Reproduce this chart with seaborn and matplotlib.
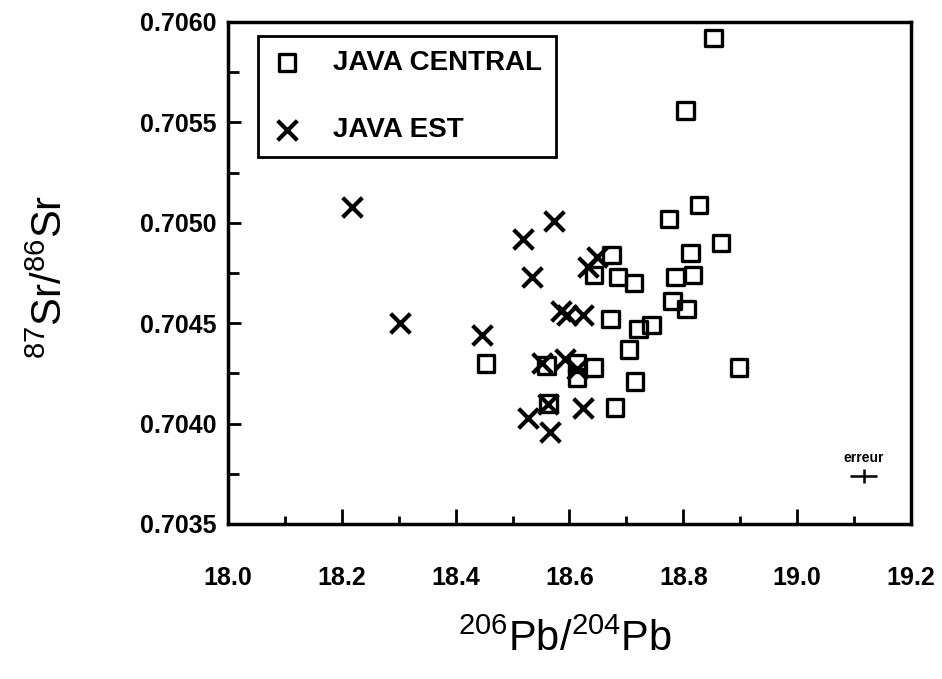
import matplotlib
matplotlib.use("Agg")
import matplotlib.pyplot as plt
import seaborn as sns
import pandas as pd
from matplotlib.ticker import MultipleLocator

# 206Pb/204Pb and 87Sr/86Sr for Central Java lavas
central_pb = [18.853, 18.804, 18.828, 18.775, 18.866, 18.813, 18.817, 18.786,
              18.781, 18.806, 18.674, 18.643, 18.685, 18.713, 18.672, 18.744,
              18.721, 18.705, 18.898, 18.453, 18.560, 18.613, 18.613, 18.643,
              18.715, 18.563, 18.680]
central_sr = [0.70592, 0.70556, 0.70509, 0.70502, 0.70490, 0.70485, 0.70474, 0.70473,
              0.70461, 0.70457, 0.70484, 0.70474, 0.70473, 0.70470, 0.70452, 0.70449,
              0.70447, 0.70437, 0.70428, 0.70430, 0.70429, 0.70430, 0.70423, 0.70428,
              0.70421, 0.70410, 0.70408]

# East Java lavas
est_pb = [18.218, 18.303, 18.447, 18.519, 18.572, 18.534, 18.648, 18.633, 18.585,
          18.595, 18.624, 18.551, 18.592, 18.613, 18.563, 18.528, 18.565, 18.624]
est_sr = [0.70508, 0.70450, 0.70444, 0.70492, 0.70501, 0.70473, 0.70483, 0.70478, 0.70456,
          0.70454, 0.70454, 0.70430, 0.70432, 0.70427, 0.70410, 0.70403, 0.70396, 0.70408]

# analytical error cross
err_pb, err_sr = 19.117, 0.70374
err_dpb, err_dsr = 0.024, 0.000035

x_ticks = [18.0, 18.2, 18.4, 18.6, 18.8, 19.0, 19.2]
y_ticks = [0.7035, 0.7040, 0.7045, 0.7050, 0.7055, 0.7060]
x_tick_labels = ["18.0", "18.2", "18.4", "18.6", "18.8", "19.0", "19.2"]
y_tick_labels = ["0.7035", "0.7040", "0.7045", "0.7050", "0.7055", "0.7060"]

central = pd.DataFrame({"pb": central_pb, "sr": central_sr})
est = pd.DataFrame({"pb": est_pb, "sr": est_sr})

sns.set_theme(style="ticks")
plt.rcParams["font.family"] = ["Liberation Sans", "DejaVu Sans"]
plt.rcParams.update({
    "mathtext.fontset": "custom",
    "mathtext.rm": "Liberation Sans",
    "mathtext.it": "Liberation Sans:italic",
    "mathtext.bf": "Liberation Sans:bold",
    "text.color": "black",
    "axes.labelcolor": "black",
    "axes.edgecolor": "black",
    "axes.linewidth": 2.5,
    "xtick.color": "black",
    "ytick.color": "black",
    "xtick.labelcolor": "black",
    "ytick.labelcolor": "black",
})

fig = plt.figure(figsize=(9.42, 6.79), dpi=100)
ax = fig.add_axes([0.242, 0.2283, 0.725, 0.7393])

sns.scatterplot(data=central, x="pb", y="sr", ax=ax, marker="s", s=140,
                facecolors="none", edgecolor="black", linewidth=2.4,
                label="JAVA CENTRAL")
sns.scatterplot(data=est, x="pb", y="sr", ax=ax, marker="x", s=200,
                color="black", linewidth=3.0, label="JAVA EST")

ax.errorbar(err_pb, err_sr, xerr=err_dpb, yerr=err_dsr, fmt="none",
            ecolor="black", elinewidth=1.8, capsize=0)
ax.text(err_pb, 0.70383, "erreur", ha="center", va="center",
        fontsize=10, fontweight="bold", color="black")

ax.set_xlim(18.0, 19.2)
ax.set_ylim(0.7035, 0.7060)
ax.set_xticks(x_ticks)
ax.set_xticklabels(x_tick_labels)
ax.set_yticks(y_ticks)
ax.set_yticklabels(y_tick_labels)
ax.xaxis.set_minor_locator(MultipleLocator(0.1))
ax.yaxis.set_minor_locator(MultipleLocator(0.00025))

ax.tick_params(which="both", direction="in", width=2, top=False, right=False)
ax.tick_params(axis="x", which="major", length=11, pad=30, labelsize=18)
ax.tick_params(axis="x", which="minor", length=6)
ax.tick_params(axis="y", which="major", length=9, pad=8, labelsize=18)
ax.tick_params(axis="y", which="minor", length=8)
for lab in ax.get_xticklabels() + ax.get_yticklabels():
    lab.set_fontweight("bold")

for side in ["top", "right", "bottom", "left"]:
    ax.spines[side].set_visible(True)
    ax.spines[side].set_linewidth(2.5)
    ax.spines[side].set_color("black")

ax.set_xlabel(r"$^{206}$Pb/$^{204}$Pb", fontsize=30, va="center", color="black")
ax.set_ylabel(r"$^{87}$Sr/$^{86}$Sr", fontsize=30, va="center", color="black")
ax.xaxis.set_label_coords(0.493, -0.231)
ax.yaxis.set_label_coords(-0.26, 0.492)

leg = ax.legend(loc="upper left", bbox_to_anchor=(0.044, 0.9726),
                borderaxespad=0, frameon=True, fancybox=False,
                edgecolor="black", framealpha=1,
                prop={"family": ["Liberation Sans Narrow", "Liberation Sans"],
                      "size": 20, "weight": "bold"},
                borderpad=0.5, labelspacing=1.5, handlelength=1.1,
                handletextpad=1.1, scatterpoints=1)
leg.get_frame().set_linewidth(2)
for t in leg.get_texts():
    t.set_color("black")

fig.savefig("out.png", dpi=100)
